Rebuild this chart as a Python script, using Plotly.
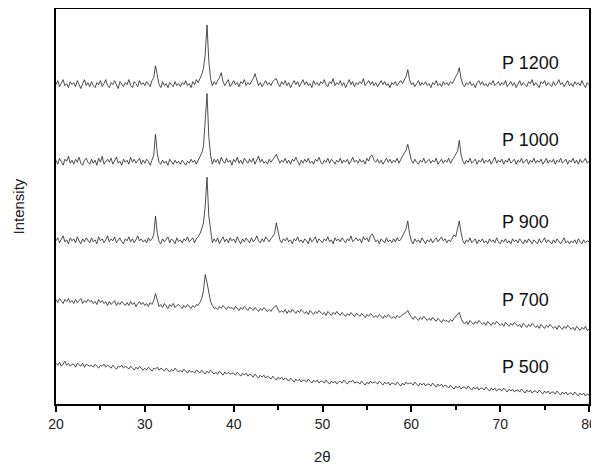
import numpy as np
import plotly.graph_objects as go

two_theta = np.round(np.linspace(20, 80, 301), 1)

p1200 = [
    321, 325, 319, 323, 326, 320, 322, 318, 324, 321,
    323, 319, 325, 321, 317, 322, 326, 320, 323, 319,
    324, 320, 318, 323, 321, 325, 319, 322, 326, 320,
    318, 323, 321, 325, 320, 317, 324, 322, 319, 323,
    321, 326, 320, 318, 324, 322, 319, 325, 321, 323,
    320, 324, 322, 319, 325, 328, 340, 329, 321, 318,
    324, 320, 322, 318, 323, 321, 319, 324, 320, 322,
    319, 323, 321, 325, 320, 322, 318, 324, 321, 326,
    323, 327, 331, 337, 352, 381, 345, 327, 320, 324,
    321, 325, 328, 333, 324, 320, 323, 326, 319, 322,
    325, 321, 323, 319, 324, 322, 326, 320, 323, 321,
    324, 327, 332, 325, 320, 323, 319, 322, 325, 321,
    323, 320, 324, 326, 327, 322, 319, 324, 321, 325,
    320, 323, 318, 322, 325, 321, 324, 319, 323, 326,
    321, 324, 320, 322, 318, 325, 321, 323, 320, 324,
    322, 326, 321, 319, 324, 322, 327, 320, 323, 321,
    325, 320, 323, 318, 322, 326, 321, 324, 319, 323,
    321, 324, 322, 327, 320, 323, 325, 321, 324, 320,
    323, 319, 322, 325, 321, 324, 320, 322, 318, 323,
    321, 324, 320, 323, 325, 322, 326, 329, 336, 326,
    321, 323, 319, 322, 325, 320, 323, 321, 324, 320,
    322, 318, 323, 321, 325, 320, 322, 319, 324, 321,
    323, 320, 324, 322, 326, 329, 332, 338, 327, 321,
    319, 323, 321, 324, 320, 322, 318, 323, 325, 321,
    324, 320, 322, 319, 323, 321, 325, 320, 322, 324,
    320, 323, 321, 325, 319, 322, 324, 320, 323, 318,
    322, 325, 320, 323, 321, 319, 324, 322, 326, 320,
    323, 321, 318, 324, 322, 325, 320, 323, 321, 319,
    324, 320, 322, 326, 321, 323, 319, 322, 325, 320,
    322, 319, 324, 321, 323, 320, 325, 321, 318, 323,
    321,
]

p1000 = [
    245, 241, 247, 243, 240, 246, 244, 249, 242, 245,
    241, 246, 243, 248, 242, 240, 245, 247, 243, 241,
    246, 242, 245, 240, 247, 243, 249, 241, 244, 246,
    243, 247, 241, 245, 248, 242, 244, 240, 246, 243,
    245, 241, 248, 243, 246, 242, 244, 247, 241, 245,
    242, 246, 244, 240, 245, 250, 271, 252, 243, 241,
    245, 242, 244, 240, 246, 243, 241, 245, 242, 244,
    241, 245, 243, 240, 244, 242, 246, 243, 245, 241,
    245, 248, 252, 259, 281, 312, 269, 250, 241, 246,
    243, 246, 241, 248, 244, 242, 247, 243, 245, 240,
    246, 243, 248, 242, 245, 241, 247, 244, 242, 246,
    243, 247, 241, 245, 249, 243, 246, 242, 244, 241,
    246, 243, 245, 248, 251, 246, 242, 245, 243, 247,
    242, 245, 241, 246, 244, 248, 243, 240, 245, 242,
    246, 243, 247, 242, 244, 241, 246, 244, 248, 243,
    241, 245, 243, 247, 242, 246, 244, 241, 245, 243,
    247, 242, 245, 243, 246, 241, 244, 248, 243, 245,
    242, 246, 243, 245, 241, 247, 244, 249, 250, 245,
    243, 246, 242, 245, 241, 244, 247, 243, 246, 242,
    245, 243, 247, 242, 246, 249, 252, 255, 261, 251,
    245, 242, 246, 243, 241, 245, 243, 247, 242, 244,
    246, 242, 245, 243, 247, 241, 244, 246, 242, 245,
    243, 247, 242, 245, 248, 250, 254, 265, 250, 244,
    241, 245, 243, 247, 242, 244, 246, 241, 245, 243,
    247, 242, 245, 243, 246, 241, 244, 248, 242, 245,
    243, 246, 241, 245, 243, 247, 242, 244, 246, 241,
    245, 243, 247, 242, 244, 246, 241, 245, 243, 247,
    242, 245, 243, 246, 241, 244, 247, 242, 245, 243,
    246, 241, 245, 243, 247, 242, 244, 246, 241, 245,
    243, 247, 242, 245, 241, 246, 243, 244, 247, 242,
    244,
]

p900 = [
    164, 167, 162, 166, 169, 163, 165, 161, 167, 164,
    166, 162, 168, 164, 161, 166, 163, 167, 165, 162,
    167, 163, 165, 161, 168, 164, 166, 162, 165, 169,
    163, 166, 164, 168, 162, 165, 167, 163, 161, 166,
    164, 168, 163, 166, 162, 165, 169, 164, 166, 163,
    165, 162, 167, 164, 166, 170, 189, 172, 163, 161,
    166, 163, 165, 168, 162, 166, 164, 161, 167, 163,
    165, 162, 166, 164, 168, 163, 165, 167, 162, 166,
    168, 171, 176, 182, 199, 228, 189, 173, 162, 166,
    163, 167, 161, 165, 168, 163, 166, 162, 167, 164,
    166, 162, 168, 164, 161, 166, 163, 167, 165, 162,
    167, 163, 165, 169, 164, 162, 166, 163, 168, 165,
    163, 166, 168, 171, 182, 172, 165, 162, 166, 164,
    167, 163, 165, 161, 166, 164, 168, 163, 165, 162,
    166, 164, 161, 167, 163, 165, 168, 162, 166, 164,
    162, 166, 164, 168, 163, 165, 161, 167, 164, 166,
    163, 167, 165, 162, 166, 164, 169, 163, 165, 167,
    164, 166, 162, 168, 165, 167, 163, 169, 171, 166,
    163, 165, 161, 166, 164, 162, 167, 163, 165, 162,
    166, 163, 167, 164, 165, 169, 172, 176, 184, 171,
    164, 161, 166, 163, 165, 162, 167, 164, 161, 165,
    163, 166, 162, 165, 167, 163, 165, 168, 164, 166,
    162, 165, 163, 167, 170, 168, 175, 184, 172, 164,
    161, 165, 163, 167, 162, 164, 166, 161, 165, 163,
    166, 162, 164, 161, 166, 163, 165, 162, 167, 163,
    161, 165, 163, 166, 162, 164, 161, 166, 163, 165,
    162, 166, 163, 161, 165, 162, 166, 164, 161, 165,
    163, 161, 166, 162, 164, 167, 162, 165, 163, 161,
    165, 162, 166, 163, 161, 164, 167, 162, 164, 161,
    164, 162, 165, 161, 166, 163, 161, 165, 162, 164,
    163,
]

p700 = [
    105, 102, 106, 103, 101, 105, 103, 106, 102, 104,
    101, 105, 102, 104, 106, 101, 104, 102, 105, 103,
    104, 101, 103, 100, 105, 102, 104, 101, 103, 99,
    103, 100, 102, 104, 99, 102, 100, 103, 101, 99,
    102, 99, 103, 100, 102, 98, 101, 103, 100, 102,
    99, 101, 98, 102, 100, 104, 111, 103, 98, 100,
    97, 101, 99, 96, 100, 98, 101, 97, 99, 100,
    98, 96, 99, 97, 100, 98, 96, 99, 97, 100,
    99, 102, 106, 114, 130, 122, 110, 103, 99, 96,
    97, 95, 98, 96, 99, 97, 95, 98, 96, 97,
    95, 98, 96, 94, 97, 95, 98, 96, 94, 97,
    96, 94, 97, 95, 93, 96, 94, 97, 95, 93,
    95, 93, 96, 98, 99, 95, 92, 94, 92, 95,
    91, 94, 92, 95, 93, 91, 94, 92, 95, 93,
    91, 93, 90, 94, 92, 90, 93, 91, 94, 92,
    90, 92, 89, 93, 91, 89, 92, 90, 93, 91,
    89, 92, 90, 88, 91, 89, 92, 90, 88, 91,
    90, 88, 91, 89, 87, 90, 88, 91, 89, 87,
    89, 87, 90, 88, 86, 89, 87, 90, 88, 86,
    88, 86, 89, 87, 88, 90, 91, 92, 94, 90,
    87, 85, 88, 86, 84, 87, 85, 88, 86, 84,
    86, 84, 87, 85, 83, 86, 84, 82, 85, 83,
    84, 82, 85, 83, 86, 88, 90, 92, 86, 82,
    81, 83, 80, 84, 82, 80, 83, 81, 84, 82,
    80, 82, 79, 83, 81, 79, 82, 80, 83, 81,
    79, 81, 78, 82, 80, 78, 81, 79, 82, 80,
    78, 80, 77, 81, 79, 77, 80, 78, 81, 79,
    77, 79, 76, 80, 78, 76, 79, 77, 80, 78,
    76, 78, 75, 79, 77, 75, 78, 76, 79, 77,
    75, 77, 74, 78, 76, 74, 77, 75, 78, 74,
    75,
]

p500 = [
    41, 39, 42, 38, 40, 43, 39, 41, 38, 40,
    40, 37, 41, 39, 38, 41, 37, 40, 39, 38,
    39, 37, 40, 38, 36, 39, 38, 40, 37, 39,
    38, 36, 39, 37, 35, 38, 37, 39, 36, 38,
    37, 35, 38, 36, 34, 37, 35, 38, 36, 34,
    36, 34, 37, 35, 33, 36, 35, 37, 34, 36,
    35, 33, 36, 34, 32, 35, 33, 36, 34, 32,
    34, 32, 35, 33, 31, 34, 32, 33, 31, 34,
    33, 31, 34, 32, 30, 33, 31, 34, 32, 30,
    32, 30, 33, 31, 29, 32, 30, 32, 30, 31,
    31, 29, 32, 30, 28, 31, 29, 31, 28, 30,
    29, 27, 30, 28, 26, 29, 27, 29, 26, 28,
    27, 25, 28, 26, 24, 27, 25, 27, 24, 26,
    25, 23, 26, 24, 22, 25, 23, 25, 22, 24,
    24, 22, 25, 23, 21, 24, 22, 24, 21, 23,
    23, 21, 24, 22, 20, 23, 21, 23, 20, 22,
    23, 21, 24, 22, 20, 23, 22, 24, 21, 22,
    22, 20, 23, 21, 19, 22, 20, 23, 21, 22,
    22, 20, 23, 21, 19, 22, 20, 22, 19, 21,
    21, 19, 22, 20, 18, 21, 19, 22, 20, 21,
    21, 19, 22, 20, 18, 21, 19, 21, 18, 20,
    20, 18, 21, 19, 17, 20, 18, 20, 17, 19,
    18, 16, 19, 17, 15, 18, 16, 18, 15, 17,
    17, 15, 18, 16, 14, 17, 15, 17, 14, 16,
    16, 14, 17, 15, 13, 16, 14, 16, 13, 15,
    15, 13, 16, 14, 12, 15, 13, 15, 12, 14,
    14, 12, 15, 13, 11, 14, 12, 14, 11, 13,
    13, 11, 14, 12, 10, 13, 11, 13, 10, 12,
    12, 10, 13, 11, 9, 12, 10, 12, 9, 11,
    11, 9, 12, 10, 8, 11, 9, 11, 8, 10,
    9,
]

series_names = ["P 1200", "P 1000", "P 900", "P 700", "P 500"]
series_values = [p1200, p1000, p900, p700, p500]
label_x = 70.0
label_y = [343, 265, 183, 105, 37]

x_ticks = [20, 30, 40, 50, 60, 70, 80]

fig = go.Figure()
for name, vals in zip(series_names, series_values):
    fig.add_trace(go.Scatter(
        x=two_theta, y=vals, mode="lines", name=name,
        line=dict(color="#222222", width=0.8),
        showlegend=False,
    ))

for name, ly in zip(series_names, label_y):
    fig.add_annotation(
        x=label_x, y=ly, text=name, showarrow=False,
        xanchor="left", yanchor="middle",
        font=dict(family="Liberation Sans, Arial", size=18, color="#111111"),
    )

# axis titles
fig.add_annotation(
    xref="paper", yref="paper", x=0, y=0.5, xshift=-38, textangle=-90,
    text="Intensity", showarrow=False, xanchor="center", yanchor="middle",
    font=dict(family="Liberation Sans, Arial", size=15, color="#222222"),
)
fig.add_annotation(
    xref="paper", yref="paper", x=0.5, y=0, yshift=-52,
    text="2θ", showarrow=False, xanchor="center", yanchor="middle",
    font=dict(family="Liberation Sans, Arial", size=15, color="#222222"),
)

# page body has an 8px default margin, so the figure is sized to fit the window
fig.update_layout(
    width=591, height=460,
    margin=dict(l=48, r=10, t=1, b=64, autoexpand=False),
    paper_bgcolor="white", plot_bgcolor="white",
    font=dict(family="Liberation Sans, Arial", color="#000000"),
)
fig.update_xaxes(
    range=[20, 80], tickvals=x_ticks, ticktext=[str(v) for v in x_ticks],
    automargin=False,
    showline=True, linecolor="black", linewidth=2, mirror=True,
    ticks="outside", ticklen=6, tickwidth=1.5, tickcolor="black",
    minor=dict(dtick=5, ticks="outside", ticklen=4, tickwidth=1.5, tickcolor="black"),
    showgrid=False, zeroline=False,
    tickfont=dict(size=14, color="#222222"),
)
fig.update_yaxes(
    range=[0, 397], showticklabels=False, automargin=False,
    showline=True, linecolor="black", linewidth=2, mirror=True,
    ticks="", showgrid=False, zeroline=False,
)

fig.write_html("out.html")
